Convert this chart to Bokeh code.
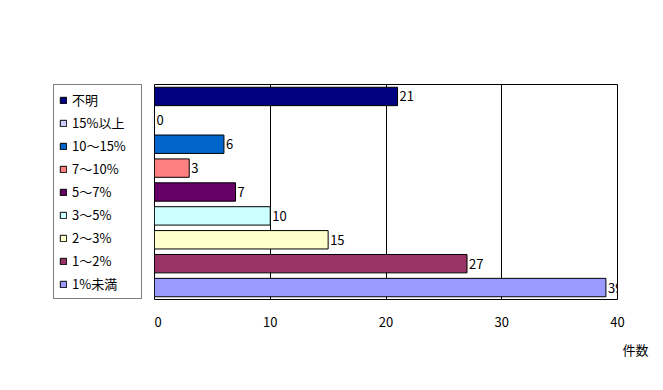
from bokeh.plotting import figure
from bokeh.layouts import row
from bokeh.models import ColumnDataSource, FactorRange, Range1d, Legend, LegendItem, Title, FixedTicker
from bokeh.embed import file_html
from bokeh.resources import INLINE
from bokeh.core.properties import value

# data, top to bottom
categories = ["不明", "15%以上", "10～15%", "7～10%", "5～7%", "3～5%", "2～3%", "1～2%", "1%未満"]
counts = [21, 0, 6, 3, 7, 10, 15, 27, 39]
colors = ["#000080", "#CCCCFF", "#0066CC", "#FF8080", "#660066", "#CCFFFF", "#FFFFCC", "#993366", "#9999FF"]
x_ticks = [0, 10, 20, 30, 40]
x_title = "件数"

FONT = "Noto Sans CJK JP"
H = 382

src = ColumnDataSource(dict(cat=categories, val=counts, color=colors,
                            lab=[str(v) for v in counts]))

# ---- main chart ----
p = figure(width=501, height=H, output_backend="svg", toolbar_location=None,
           y_range=FactorRange(factors=list(reversed(categories)), range_padding=0),
           x_range=Range1d(0, 40))
p.min_border_left = 0
p.min_border_right = 38
p.min_border_top = 84
p.min_border_bottom = 20
p.frame_height = 215
p.background_fill_color = "white"
p.border_fill_color = "white"
p.outline_line_color = "black"
p.outline_line_width = 1

r = p.hbar(y="cat", right="val", left=0, height=0.77, fill_color="color",
           line_color="black", line_width=1, source=src)
p.text(x="val", y="cat", text="lab", source=src, x_offset=2,
       text_baseline="middle", text_align="left",
       text_font=value(FONT), text_font_size="13px", text_color="black")

p.yaxis.visible = False
p.ygrid.grid_line_color = None
p.xgrid.grid_line_color = "black"
p.xgrid.grid_line_width = 1
p.xaxis.ticker = FixedTicker(ticks=x_ticks)
p.xaxis.axis_line_color = None
p.xaxis.major_tick_line_color = None
p.xaxis.minor_tick_line_color = None
p.xaxis.major_label_standoff = 11
p.xaxis.major_label_text_font = FONT
p.xaxis.major_label_text_font_size = "13px"
p.xaxis.major_label_text_color = "black"

t = Title(text=x_title, align="right", text_font=FONT, text_font_size="13px",
          text_font_style="normal", text_color="black", offset=-31, standoff=16)
p.add_layout(t, "below")

# ---- legend panel ----
lg = figure(width=154, height=H, output_backend="svg", toolbar_location=None,
            x_axis_location=None, y_axis_location=None,
            y_range=FactorRange(factors=list(reversed(categories)), range_padding=0),
            x_range=Range1d(-1001, -1000))
lg.min_border_left = 0
lg.min_border_right = 0
lg.min_border_top = 84
lg.min_border_bottom = 20
lg.frame_height = 215
lg.outline_line_color = None
lg.border_fill_color = "white"
lg.background_fill_color = "white"
lg.xgrid.grid_line_color = None
lg.ygrid.grid_line_color = None
lr = lg.hbar(y="cat", right="val", left=0, height=0.77, fill_color="color",
             line_color="black", line_width=1, source=src)

items = [LegendItem(label=c, renderers=[lr], index=i) for i, c in enumerate(categories)]
legend = Legend(items=items, location=(53, 0), orientation="vertical",
                label_text_font=FONT, label_text_font_size="13px", label_text_color="black",
                glyph_width=8, glyph_height=8, label_height=18, label_width=64,
                spacing=4, padding=5, margin=0, label_standoff=5,
                border_line_color="black", border_line_width=1,
                background_fill_color="white", background_fill_alpha=1)
lg.add_layout(legend, "center")

layout = row(lg, p, spacing=0)
open("out.html", "w").write(file_html(layout, INLINE))
